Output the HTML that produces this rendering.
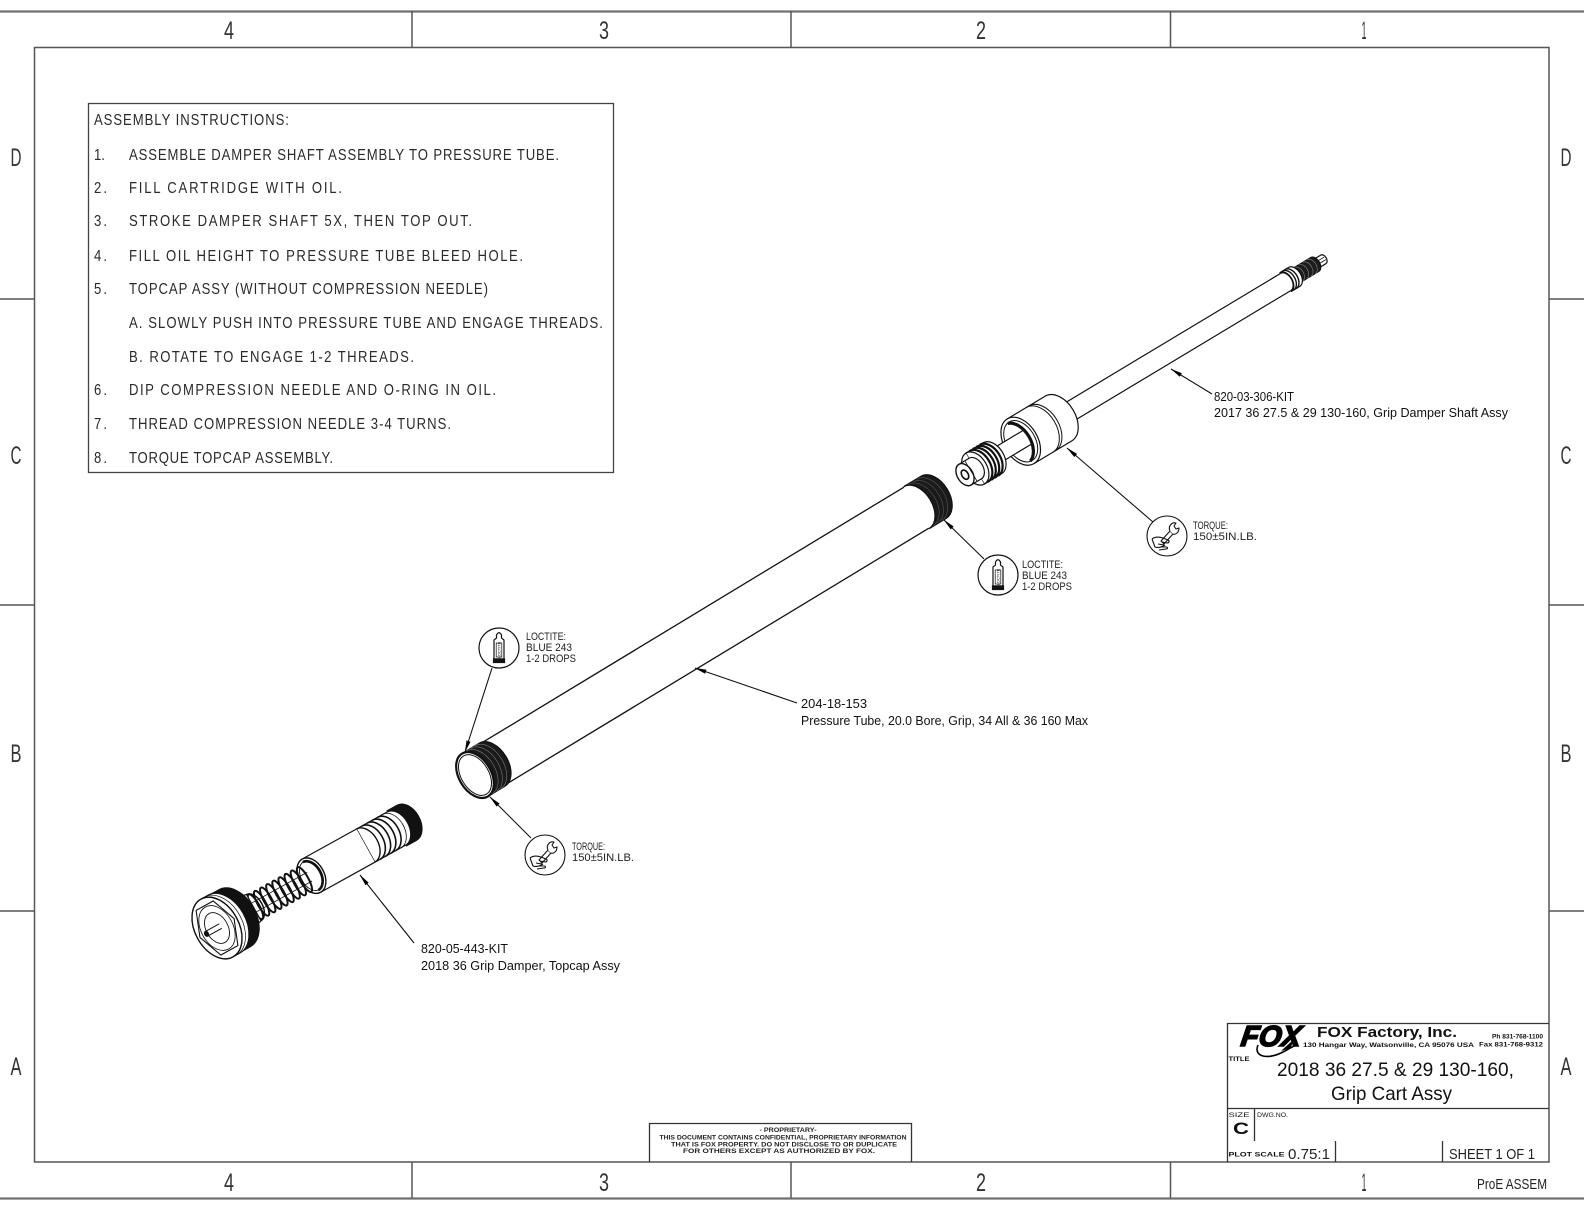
<!DOCTYPE html>
<html><head><meta charset="utf-8">
<style>
html,body{margin:0;padding:0;background:#fff;}
svg{display:block;}
.cad{font-family:"Liberation Sans Narrow","Liberation Sans",sans-serif;fill:#222;}
.my{font-family:"Liberation Sans",sans-serif;fill:#111;}
</style></head><body>
<svg width="1584" height="1224" viewBox="0 0 1584 1224" xmlns="http://www.w3.org/2000/svg">
<defs>
<marker id="ah" markerUnits="userSpaceOnUse" markerWidth="12" markerHeight="6" refX="11.5" refY="3" orient="auto" viewBox="0 0 12 6"><path d="M0,0.9 L12,3 L0,5.1 z" fill="#000"/></marker>
</defs>
<rect width="1584" height="1224" fill="#fff"/>

<!-- sheet border -->
<g stroke="#707070" stroke-width="2.2" fill="none">
<line x1="0" y1="11.5" x2="1584" y2="11.5"/>
<line x1="0" y1="1198.5" x2="1584" y2="1198.5"/>
</g>
<g stroke="#555" stroke-width="1.5" fill="none">
<rect x="34.5" y="47.5" width="1514.5" height="1114.5"/>
<line x1="412" y1="11" x2="412" y2="47"/>
<line x1="791" y1="11" x2="791" y2="47"/>
<line x1="1170.5" y1="11" x2="1170.5" y2="47"/>
<line x1="412" y1="1162" x2="412" y2="1198"/>
<line x1="791" y1="1162" x2="791" y2="1198"/>
<line x1="1170.5" y1="1162" x2="1170.5" y2="1198"/>
<line x1="0" y1="299" x2="34" y2="299"/>
<line x1="0" y1="605" x2="34" y2="605"/>
<line x1="0" y1="911" x2="34" y2="911"/>
<line x1="1549" y1="299" x2="1584" y2="299"/>
<line x1="1549" y1="605" x2="1584" y2="605"/>
<line x1="1549" y1="911" x2="1584" y2="911"/>
</g>
<g class="cad" font-size="25" text-anchor="middle" style="fill:#333">
<text x="229" y="39" textLength="10" lengthAdjust="spacingAndGlyphs">4</text>
<text x="604" y="39" textLength="10" lengthAdjust="spacingAndGlyphs">3</text>
<text x="981" y="39" textLength="10" lengthAdjust="spacingAndGlyphs">2</text>
<text x="1364" y="39" textLength="5" lengthAdjust="spacingAndGlyphs">1</text>
<text x="229" y="1191" textLength="10" lengthAdjust="spacingAndGlyphs">4</text>
<text x="604" y="1191" textLength="10" lengthAdjust="spacingAndGlyphs">3</text>
<text x="981" y="1191" textLength="10" lengthAdjust="spacingAndGlyphs">2</text>
<text x="1364" y="1191" textLength="5" lengthAdjust="spacingAndGlyphs">1</text>
<text x="16" y="166" textLength="11" lengthAdjust="spacingAndGlyphs">D</text>
<text x="16" y="464" textLength="11" lengthAdjust="spacingAndGlyphs">C</text>
<text x="16" y="762" textLength="11" lengthAdjust="spacingAndGlyphs">B</text>
<text x="16" y="1075" textLength="11" lengthAdjust="spacingAndGlyphs">A</text>
<text x="1566" y="166" textLength="11" lengthAdjust="spacingAndGlyphs">D</text>
<text x="1566" y="464" textLength="11" lengthAdjust="spacingAndGlyphs">C</text>
<text x="1566" y="762" textLength="11" lengthAdjust="spacingAndGlyphs">B</text>
<text x="1566" y="1075" textLength="11" lengthAdjust="spacingAndGlyphs">A</text>
</g>

<!-- assembly instructions -->
<rect x="88.5" y="103.5" width="525" height="369" fill="none" stroke="#444" stroke-width="1.3"/>
<g class="cad" font-size="16" transform="scale(0.82,1)" style="fill:#2a2a2a">
<text x="114.6" y="125" textLength="237.8" lengthAdjust="spacing">ASSEMBLY INSTRUCTIONS:</text>
<text x="114.6" y="160" textLength="13.4" lengthAdjust="spacing">1.</text>
<text x="157.3" y="160" textLength="524.4" lengthAdjust="spacing">ASSEMBLE DAMPER SHAFT ASSEMBLY TO PRESSURE TUBE.</text>
<text x="114.6" y="193" textLength="15.9" lengthAdjust="spacing">2.</text>
<text x="157.3" y="193" textLength="259.8" lengthAdjust="spacing">FILL CARTRIDGE WITH OIL.</text>
<text x="114.6" y="226" textLength="15.9" lengthAdjust="spacing">3.</text>
<text x="157.3" y="226" textLength="418.3" lengthAdjust="spacing">STROKE DAMPER SHAFT 5X, THEN TOP OUT.</text>
<text x="114.6" y="261" textLength="15.9" lengthAdjust="spacing">4.</text>
<text x="157.3" y="261" textLength="480.5" lengthAdjust="spacing">FILL OIL HEIGHT TO PRESSURE TUBE BLEED HOLE.</text>
<text x="114.6" y="294" textLength="15.9" lengthAdjust="spacing">5.</text>
<text x="157.3" y="294" textLength="437.8" lengthAdjust="spacing">TOPCAP ASSY (WITHOUT COMPRESSION NEEDLE)</text>
<text x="157.3" y="328" textLength="578" lengthAdjust="spacing">A. SLOWLY PUSH INTO PRESSURE TUBE AND ENGAGE THREADS.</text>
<text x="157.3" y="362" textLength="347.6" lengthAdjust="spacing">B. ROTATE TO ENGAGE 1-2 THREADS.</text>
<text x="114.6" y="395" textLength="15.9" lengthAdjust="spacing">6.</text>
<text x="157.3" y="395" textLength="447.6" lengthAdjust="spacing">DIP COMPRESSION NEEDLE AND O-RING IN OIL.</text>
<text x="114.6" y="429" textLength="15.9" lengthAdjust="spacing">7.</text>
<text x="157.3" y="429" textLength="392.7" lengthAdjust="spacing">THREAD COMPRESSION NEEDLE 3-4 TURNS.</text>
<text x="114.6" y="463" textLength="15.9" lengthAdjust="spacing">8.</text>
<text x="157.3" y="463" textLength="248.8" lengthAdjust="spacing">TORQUE TOPCAP ASSEMBLY.</text>
</g>

<!-- damper shaft assembly -->
<g transform="translate(1061,417) rotate(-31)" stroke="#111" stroke-width="1.2" fill="none" stroke-linejoin="round">
  <path d="M296,-5 L306,-5 A3.3,5 0 0 1 306,5 L296,5 Z" fill="#fff"/>
  <path d="M300,-1.5 L308,-1.5 M300,1.5 L308,1.5" stroke-width="0.8"/>
  <path d="M272,-8 A5.2,8 0 0 1 272,8 L296,8 A5.2,8 0 0 0 296,-8 Z" fill="#1c1c1c"/>
  <path d="M277,-8 A5.2,8 0 0 1 277,8 M282,-8 A5.2,8 0 0 1 282,8 M287,-8 A5.2,8 0 0 1 287,8 M292,-8 A5.2,8 0 0 1 292,8" stroke="#888" stroke-width="0.6"/>
  <path d="M262,-11 A7,11 0 0 1 262,11 L272,11 A7,11 0 0 0 272,-11 Z" fill="#fff"/>
  <path d="M265,-11 A7,11 0 0 1 265,11 M268,-11 A7,11 0 0 1 268,11" stroke-width="1.4"/>
  <rect x="-3" y="-10" width="265" height="20" fill="#fff" stroke="none"/>
  <path d="M-3,-10 L262,-10 M-3,10 L262,10"/>
  <path d="M262,-10 A6.5,10 0 0 1 262,10"/>
  <!-- ring -->
  <path d="M-47,-26 L-3,-26 A17,26 0 0 1 -3,26 L-47,26 Z" fill="#fff"/>
  <path d="M-22,-26 A17,26 0 0 1 -22,26 M-25,-26 A17,26 0 0 1 -25,26" stroke-width="1"/>
  <ellipse cx="-47" cy="0" rx="17" ry="26" fill="#fff"/>
  <ellipse cx="-47" cy="0" rx="14.5" ry="22.5" stroke-width="1"/>
  <path d="M-49,-22 A14.5,22.5 0 0 1 -49,22" stroke-width="3.2"/>
  <!-- rod -->
  <rect x="-82" y="-8" width="42" height="16" fill="#fff" stroke="none"/>
  <path d="M-82,-8 L-40,-8 M-82,8 L-40,8"/>
  <!-- piston -->
  <path d="M-100,-18 L-80,-18 A11.7,18 0 0 1 -80,18 L-100,18 Z" fill="#fff"/>
  <path d="M-96,-18 A11.7,18 0 0 1 -96,18 M-92,-18 A11.7,18 0 0 1 -92,18 M-88,-18 A11.7,18 0 0 1 -88,18 M-84,-18 A11.7,18 0 0 1 -84,18" stroke-width="2.2"/>
  <ellipse cx="-100" cy="0" rx="11.7" ry="18" fill="#fff"/>
  <path d="M-100,-18 L-100,18" stroke-width="0.6"/>
  <!-- nut -->
  <path d="M-112,-12 L-100,-12 A7.8,12 0 0 1 -100,12 L-112,12 Z" fill="#fff"/>
  <ellipse cx="-112" cy="0" rx="7.8" ry="12" fill="#fff" stroke-width="1.4"/>
  <path d="M-105,-12 L-105,12" stroke-width="0.8"/>
  <ellipse cx="-112" cy="0" rx="3.2" ry="5" stroke-width="1.6"/>
</g>

<!-- pressure tube -->
<g transform="translate(475,775) rotate(-31.2)" stroke="#111" stroke-width="1.3" fill="none">
  <path d="M20,-24 L516,-24 M20,24 L516,24"/>
  <path d="M516,-24.5 A16,24.5 0 0 1 516,24.5 L536,24.5 A16,24.5 0 0 0 536,-24.5 Z" fill="#1a1a1a"/>
  <path d="M521,-24 A16,24 0 0 1 521,24 M526,-24 A16,24 0 0 1 526,24 M531,-24 A16,24 0 0 1 531,24" stroke="#555" stroke-width="0.6"/>
  <path d="M0,-25 A16,25 0 0 1 0,25 L20,25 A16,25 0 0 0 20,-25 Z" fill="#1a1a1a"/>
  <path d="M5,-25 A16,25 0 0 1 5,25 M10,-25 A16,25 0 0 1 10,25 M15,-25 A16,25 0 0 1 15,25" stroke="#777" stroke-width="0.6"/>
  <ellipse cx="0" cy="0" rx="16" ry="25" fill="#fff" stroke-width="2.2"/>
  <ellipse cx="0" cy="0" rx="13.8" ry="22.3" stroke-width="1"/>
</g>

<!-- topcap assembly -->
<g transform="translate(217,928) rotate(-29)" stroke="#111" stroke-width="1.2" fill="none">
  <path d="M205,-20 A13.4,20 0 0 1 205,20 L217,20 A13.4,20 0 0 0 217,-20 Z" fill="#111"/>
  <path d="M170,-19 L205,-19 A12.7,19 0 0 1 205,19 L170,19 Z" fill="#fff"/>
  <path d="M176,-19 A12.7,19 0 0 1 176,19 M182,-19 A12.7,19 0 0 1 182,19 M188,-19 A12.7,19 0 0 1 188,19 M194,-19 A12.7,19 0 0 1 194,19" stroke-width="1.6"/>
  <path d="M200,-19 A12.7,19 0 0 1 200,19" stroke-width="0.8"/>
  <rect x="108" y="-19" width="62" height="38" fill="#fff" stroke="none"/>
  <path d="M108,-19 L170,-19 M108,19 L170,19"/>
  <path d="M170,-19 A12.7,19 0 0 1 170,19" stroke-width="1.4"/>
  <ellipse cx="108" cy="0" rx="12.7" ry="19" fill="#fff" stroke-width="1.4"/>
  <ellipse cx="108" cy="0" rx="10.5" ry="16" stroke-width="0.9"/>
  <path d="M107,-16 A10.5,16 0 0 1 107,16" stroke-width="2.6"/>
  <!-- spring -->
  <path d="M36,-5 L106,-5 M36,5 L106,5" stroke-width="0.8"/>
  <g stroke-width="2">
    <ellipse cx="44" cy="0" rx="4" ry="14"/>
    <ellipse cx="51" cy="0" rx="4" ry="14"/>
    <ellipse cx="58" cy="0" rx="4" ry="14"/>
    <ellipse cx="65" cy="0" rx="4" ry="14"/>
    <ellipse cx="72" cy="0" rx="4" ry="14"/>
    <ellipse cx="79" cy="0" rx="4" ry="14"/>
    <ellipse cx="86" cy="0" rx="4" ry="14"/>
    <ellipse cx="93" cy="0" rx="4" ry="14"/>
    <ellipse cx="100" cy="0" rx="4" ry="14"/>
  </g>
  <!-- neck -->
  <path d="M18,-29 C28,-26 32,-17 42,-15 L42,15 C32,17 28,26 18,29 Z" fill="#fff"/>
  <path d="M42,-15 A9,15 0 0 1 42,15" stroke-width="1.4"/>
  <!-- cap -->
  <path d="M8,-32.5 A21.7,32.5 0 0 1 8,32.5 L20,32.5 A21.7,32.5 0 0 0 20,-32.5 Z" fill="#111"/>
  <path d="M0,-33 A22,33 0 0 1 0,33 L8,33 A22,33 0 0 0 8,-33 Z" fill="#fff"/>
  <path d="M4,-33 A22,33 0 0 1 4,33" stroke-width="0.7"/>
  <ellipse cx="0" cy="0" rx="22" ry="33" fill="#fff" stroke-width="1.4"/>
  <polygon points="19.5,0 9.75,25.5 -9.75,25.5 -19.5,0 -9.75,-25.5 9.75,-25.5" stroke-width="1.1"/>
  <ellipse cx="0" cy="0" rx="16" ry="24" stroke-width="0.8"/>
  <ellipse cx="0" cy="0" rx="11" ry="16.5" stroke-width="0.9"/>
  <path d="M-12,-2.6 L4,-2.6 M-12,2.6 L4,2.6" stroke-width="1"/>
  <ellipse cx="-12" cy="0" rx="1.8" ry="2.6" fill="#111"/>
</g>

<!-- leaders -->
<g stroke="#111" stroke-width="1.1" fill="none" marker-end="url(#ah)">
  <line x1="1212" y1="394" x2="1171" y2="369"/>
  <line x1="1153" y1="522" x2="1067" y2="448"/>
  <line x1="984" y1="559" x2="944" y2="520"/>
  <line x1="797" y1="703" x2="695" y2="668"/>
  <line x1="492" y1="668" x2="465" y2="752"/>
  <line x1="531" y1="838" x2="490" y2="797"/>
  <line x1="414" y1="943" x2="360" y2="875"/>
</g>

<!-- loctite icon 1 -->
<g transform="translate(499,648)" stroke="#111" stroke-width="1.2" fill="#fff">
  <circle r="20"/>
  <path d="M-2.5,-13 Q0,-17.5 2.5,-13 L2.5,-10 L5,-8 L5,11 L-5,11 L-5,-8 L-2.5,-10 Z"/>
  <rect x="-5.5" y="11" width="11" height="3.5" fill="#111"/>
  <rect x="-2.8" y="-5" width="5.6" height="14" stroke-width="0.7"/>
  <text transform="rotate(-90)" x="-2" y="1.5" font-size="4" text-anchor="middle" stroke="none" fill="#111" font-family="Liberation Sans, sans-serif">LOCTITE</text>
</g>
<!-- loctite icon 2 -->
<g transform="translate(998,575)" stroke="#111" stroke-width="1.2" fill="#fff">
  <circle r="20"/>
  <path d="M-2.5,-13 Q0,-17.5 2.5,-13 L2.5,-10 L5,-8 L5,11 L-5,11 L-5,-8 L-2.5,-10 Z"/>
  <rect x="-5.5" y="11" width="11" height="3.5" fill="#111"/>
  <rect x="-2.8" y="-5" width="5.6" height="14" stroke-width="0.7"/>
  <text transform="rotate(-90)" x="-2" y="1.5" font-size="4" text-anchor="middle" stroke="none" fill="#111" font-family="Liberation Sans, sans-serif">LOCTITE</text>
</g>
<!-- torque icon 1 -->
<g transform="translate(545,855)" stroke="#111" stroke-width="1.1" fill="none" stroke-linejoin="round">
  <circle r="20" fill="#fff"/>
  <path d="M-6,5 L3,-5 L6,-2 L-3,8 Z" fill="#fff"/>
  <path d="M3,-5 C1,-9 4,-14 9,-13 L7,-10 L9,-7 L12,-8 C12,-3 8,-1 6,-2" fill="#fff"/>
  <path d="M-15,3 C-11,0 -7,1 -4,2 L1,4 C3,5 2,7 0,7 L-5,6 M-15,3 L-12,11 C-9,12 -5,11 -2,9 M-9,8 L-3,9 M-7,11 L-1,11 C1,11 1,13 -1,13 L-8,14"/>
</g>
<!-- torque icon 2 -->
<g transform="translate(1167,536)" stroke="#111" stroke-width="1.1" fill="none" stroke-linejoin="round">
  <circle r="20" fill="#fff"/>
  <path d="M-6,5 L3,-5 L6,-2 L-3,8 Z" fill="#fff"/>
  <path d="M3,-5 C1,-9 4,-14 9,-13 L7,-10 L9,-7 L12,-8 C12,-3 8,-1 6,-2" fill="#fff"/>
  <path d="M-15,3 C-11,0 -7,1 -4,2 L1,4 C3,5 2,7 0,7 L-5,6 M-15,3 L-12,11 C-9,12 -5,11 -2,9 M-9,8 L-3,9 M-7,11 L-1,11 C1,11 1,13 -1,13 L-8,14"/>
</g>

<!-- callout text (CAD style) -->
<g class="cad" font-size="11">
  <text x="526" y="640" textLength="40" lengthAdjust="spacingAndGlyphs">LOCTITE:</text>
  <text x="526" y="651" textLength="46" lengthAdjust="spacingAndGlyphs">BLUE 243</text>
  <text x="526" y="662" textLength="50" lengthAdjust="spacingAndGlyphs">1-2 DROPS</text>
  <text x="1022" y="568" textLength="41" lengthAdjust="spacingAndGlyphs">LOCTITE:</text>
  <text x="1022" y="579" textLength="45" lengthAdjust="spacingAndGlyphs">BLUE 243</text>
  <text x="1022" y="590" textLength="50" lengthAdjust="spacingAndGlyphs">1-2 DROPS</text>
  <text x="572" y="850" textLength="33" lengthAdjust="spacingAndGlyphs">TORQUE:</text>
  <text x="572" y="861" textLength="62" lengthAdjust="spacingAndGlyphs">150±5IN.LB.</text>
  <text x="1193" y="529" textLength="35" lengthAdjust="spacingAndGlyphs">TORQUE:</text>
  <text x="1193" y="540" textLength="64" lengthAdjust="spacingAndGlyphs">150±5IN.LB.</text>
</g>

<!-- part labels -->
<g class="my" font-size="12.5">
  <text x="1214" y="401" textLength="80" lengthAdjust="spacingAndGlyphs">820-03-306-KIT</text>
  <text x="1214" y="417" textLength="294" lengthAdjust="spacingAndGlyphs">2017 36 27.5 &amp; 29 130-160, Grip Damper Shaft Assy</text>
  <text x="801" y="708" textLength="66" lengthAdjust="spacingAndGlyphs">204-18-153</text>
  <text x="801" y="725" textLength="287" lengthAdjust="spacingAndGlyphs">Pressure Tube, 20.0 Bore, Grip, 34 All &amp; 36 160 Max</text>
  <text x="421" y="953" textLength="87" lengthAdjust="spacingAndGlyphs">820-05-443-KIT</text>
  <text x="421" y="970" textLength="199" lengthAdjust="spacingAndGlyphs">2018 36 Grip Damper, Topcap Assy</text>
</g>

<!-- proprietary box -->
<path d="M649.5,1162 L649.5,1123.5 L911.5,1123.5 L911.5,1162" fill="none" stroke="#333" stroke-width="1.3"/>
<g font-family="Liberation Sans, sans-serif" font-weight="bold" font-size="6.5" fill="#222" text-anchor="middle">
  <text x="788" y="1132" textLength="57" lengthAdjust="spacingAndGlyphs">- PROPRIETARY-</text>
  <text x="783" y="1139.5" textLength="247" lengthAdjust="spacingAndGlyphs">THIS DOCUMENT CONTAINS CONFIDENTIAL, PROPRIETARY INFORMATION</text>
  <text x="784" y="1146.5" textLength="226" lengthAdjust="spacingAndGlyphs">THAT IS FOX PROPERTY.  DO NOT DISCLOSE TO OR DUPLICATE</text>
  <text x="779" y="1153" textLength="192" lengthAdjust="spacingAndGlyphs">FOR OTHERS EXCEPT AS AUTHORIZED BY FOX.</text>
</g>

<!-- title block -->
<g stroke="#333" stroke-width="1.3" fill="none">
  <path d="M1227.5,1162 L1227.5,1023.5 L1549,1023.5"/>
  <line x1="1227" y1="1108.5" x2="1549" y2="1108.5"/>
  <line x1="1254.5" y1="1108" x2="1254.5" y2="1141"/>
  <line x1="1335.5" y1="1141" x2="1335.5" y2="1162"/>
  <line x1="1442.5" y1="1141" x2="1442.5" y2="1162"/>
</g>
<g>
  <text x="1240" y="1046" font-family="Liberation Sans, sans-serif" font-weight="bold" font-style="italic" font-size="29" fill="#000" stroke="#000" stroke-width="1.6" textLength="60" lengthAdjust="spacingAndGlyphs" transform="skewX(-8) translate(147,0)">FOX</text>
  <path d="M1258,1045 C1253,1057 1268,1060 1283,1052 C1289,1049 1293,1046 1297,1045" fill="none" stroke="#000" stroke-width="1.6"/>
  <path d="M1281,1051 L1293,1040 L1291,1048 Z" fill="#000"/>
</g>
<g font-family="Liberation Sans, sans-serif" fill="#111">
  <text x="1317" y="1037" font-weight="bold" font-size="15" textLength="140" lengthAdjust="spacingAndGlyphs">FOX Factory, Inc.</text>
  <text x="1303" y="1047" font-weight="bold" font-size="6.5" textLength="171" lengthAdjust="spacingAndGlyphs">130 Hangar Way, Watsonville, CA 95076 USA</text>
  <text x="1492" y="1038.5" font-weight="bold" font-size="6.5" textLength="51" lengthAdjust="spacingAndGlyphs">Ph 831-768-1100</text>
  <text x="1479" y="1046.5" font-weight="bold" font-size="6.5" textLength="64" lengthAdjust="spacingAndGlyphs">Fax 831-768-9312</text>
  <text x="1228.5" y="1061" font-weight="bold" font-size="6" textLength="21" lengthAdjust="spacingAndGlyphs">TITLE</text>
  <text x="1277" y="1076" font-size="19.5" textLength="237" lengthAdjust="spacingAndGlyphs">2018 36 27.5 &amp; 29 130-160,</text>
  <text x="1331" y="1100" font-size="19.5" textLength="121" lengthAdjust="spacingAndGlyphs">Grip Cart Assy</text>
  <text x="1228.5" y="1117" font-size="6" textLength="21" lengthAdjust="spacingAndGlyphs">SIZE</text>
  <text x="1257" y="1117" font-size="6" textLength="31" lengthAdjust="spacingAndGlyphs">DWG.NO.</text>
  <text x="1233" y="1134" font-weight="bold" font-size="17" textLength="16" lengthAdjust="spacingAndGlyphs">C</text>
  <text x="1228.5" y="1156.5" font-weight="bold" font-size="6.5" textLength="56" lengthAdjust="spacingAndGlyphs">PLOT SCALE</text>
</g>
<g class="cad" font-size="15">
  <text x="1288" y="1159" textLength="42" lengthAdjust="spacingAndGlyphs">0.75:1</text>
  <text x="1449" y="1159" textLength="86" lengthAdjust="spacingAndGlyphs">SHEET 1 OF 1</text>
  <text x="1477" y="1189" textLength="70" lengthAdjust="spacingAndGlyphs">ProE ASSEM</text>
</g>
</svg>
</body></html>
